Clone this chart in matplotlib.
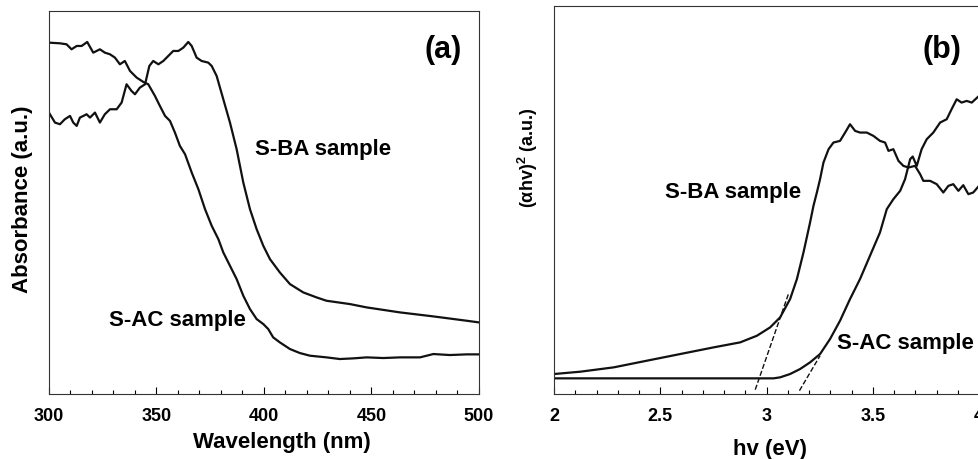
import matplotlib.pyplot as plt
import numpy as np
from matplotlib.ticker import MultipleLocator

plt.rcParams['font.family'] = ['Liberation Sans', 'DejaVu Sans']
plt.rcParams['font.weight'] = 'bold'
plt.rcParams['mathtext.fontset'] = 'custom'
plt.rcParams['mathtext.bf'] = 'Liberation Sans:bold'

# (a) UV-vis absorbance
wl_ba = [300.0, 302.8, 305.1, 307.4, 309.8, 311.3, 312.9, 314.4, 316.0, 317.5, 319.1, 321.4,
         323.7, 326.0, 328.4, 331.5, 333.8, 336.1, 338.4, 340.0, 342.3, 344.7, 346.7, 348.5,
         350.9, 353.2, 355.5, 357.8, 360.2, 362.5, 364.8, 366.4, 368.7, 371.0, 374.1, 375.7,
         378.0, 381.1, 384.2, 387.3, 390.4, 393.5, 396.6, 399.7, 402.8, 407.4, 412.1, 418.3,
         424.5, 429.1, 440.0, 447.8, 463.3, 478.8, 494.3, 500.0]
abs_ba = [.845, .815, .810, .825, .835, .815, .805, .830, .835, .840, .830, .845,
          .815, .840, .855, .855, .875, .930, .910, .900, .920, .930, .985, 1.000,
          .990, 1.000, 1.015, 1.030, 1.030, 1.040, 1.057, 1.045, 1.010, 1.000, .995, .985,
          .955, .885, .815, .735, .635, .555, .495, .445, .405, .365, .330, .305,
          .290, .280, .270, .260, .245, .233, .220, .215]

wl_ac = [300.0, 305.1, 308.2, 310.5, 312.9, 315.2, 317.8, 320.6, 323.7, 326.0, 328.4, 330.7,
         333.0, 335.3, 337.7, 340.8, 343.9, 346.2, 349.3, 351.6, 354.0, 356.3, 358.6, 360.9,
         363.3, 366.4, 369.5, 372.6, 375.7, 378.8, 381.1, 384.2, 387.3, 390.4, 393.5, 396.6,
         399.7, 402.0, 404.3, 407.4, 412.1, 416.7, 421.4, 429.1, 435.3, 441.6, 447.8, 455.5,
         463.3, 472.6, 478.8, 486.5, 494.3, 500.0]
abs_ac = [1.055, 1.053, 1.050, 1.035, 1.045, 1.045, 1.057, 1.025, 1.035, 1.025, 1.020, 1.010,
          .990, 1.000, .970, .950, .937, .930, .895, .865, .835, .820, .785, .745,
          .720, .665, .615, .555, .505, .465, .425, .385, .345, .295, .255, .225,
          .210, .195, .170, .155, .135, .123, .115, .110, .105, .107, .110, .108,
          .110, .110, .120, .117, .119, .119]

# (b) Tauc plot
ev_ba = [2.000, 2.124, 2.281, 2.437, 2.594, 2.751, 2.876, 2.955, 3.017, 3.064, 3.111, 3.143,
         3.174, 3.205, 3.221, 3.237, 3.252, 3.268, 3.292, 3.315, 3.346, 3.370, 3.393, 3.417,
         3.440, 3.472, 3.503, 3.534, 3.558, 3.574, 3.597, 3.621, 3.644, 3.668, 3.699, 3.723,
         3.738, 3.770, 3.801, 3.832, 3.856, 3.879, 3.903, 3.926, 3.950, 3.973, 4.000]
tauc_ba = [.060, .067, .080, .100, .120, .140, .155, .175, .200, .230, .285, .345,
           .425, .515, .565, .605, .645, .695, .735, .755, .760, .785, .810, .790,
           .785, .785, .775, .760, .755, .730, .735, .700, .685, .680, .685, .660,
           .640, .640, .630, .605, .625, .630, .610, .627, .600, .605, .625]

ev_ac = [2.000, 3.033, 3.064, 3.111, 3.158, 3.205, 3.252, 3.299, 3.346, 3.393, 3.440, 3.487,
         3.534, 3.566, 3.597, 3.629, 3.652, 3.676, 3.688, 3.707, 3.730, 3.754, 3.785, 3.817,
         3.848, 3.871, 3.895, 3.918, 3.942, 3.966, 4.000]
tauc_ac = [.047, .047, .050, .060, .075, .095, .120, .165, .220, .285, .345, .415,
           .485, .555, .585, .610, .645, .705, .713, .685, .735, .765, .785, .815,
           .825, .855, .885, .875, .880, .875, .895]

# 切线 (band gap extrapolation)
fit_ba_x = [2.947, 3.103]
fit_ba_y = [0.013, 0.300]
fit_ac_x = [3.155, 3.252]
fit_ac_y = [0.010, 0.115]

fig = plt.figure(figsize=(9.79, 4.6), dpi=100)
ax1 = fig.add_axes([0.050, 0.1413, 0.4392, 0.8326])
ax2 = fig.add_axes([0.5659, 0.1413, 0.4341, 0.8435])

line_kw = dict(color='#111111', linewidth=1.6)

# 左图
ax1.plot(wl_ba, abs_ba, **line_kw)
ax1.plot(wl_ac, abs_ac, **line_kw)
ax1.set_xlim(300, 500)
ax1.set_ylim(0, 1.15)
ax1.xaxis.set_major_locator(MultipleLocator(50))
ax1.xaxis.set_minor_locator(MultipleLocator(10))
ax1.set_xlabel('Wavelength (nm)', fontsize=16, fontweight='bold')
ax1.set_ylabel('Absorbance (a.u.)', fontsize=16, fontweight='bold')
ax1.xaxis.set_label_coords(0.542, -0.097)
ax1.yaxis.set_label_coords(-0.037, 0.51)
ax1.text(483.3, 1.035, '(a)', fontsize=22, fontweight='bold', ha='center', va='center')
ax1.text(427.4, 0.736, 'S-BA sample', fontsize=16, fontweight='bold', ha='center', va='center')
ax1.text(359.8, 0.225, 'S-AC sample', fontsize=16, fontweight='bold', ha='center', va='center')

# 右图
ax2.plot(ev_ba, tauc_ba, **line_kw)
ax2.plot(ev_ac, tauc_ac, **line_kw)
ax2.plot(fit_ba_x, fit_ba_y, color='#111111', linestyle='--', linewidth=1.0)
ax2.plot(fit_ac_x, fit_ac_y, color='#111111', linestyle='--', linewidth=1.0)
ax2.set_xlim(2, 4)
ax2.set_ylim(0, 1.165)
ax2.xaxis.set_minor_locator(MultipleLocator(0.1))
ax2.set_xticks([2, 2.5, 3, 3.5, 4])
ax2.set_xticklabels(['2', '2.5', '3', '3.5', '4'])
ax2.set_xlabel('hv (eV)', fontsize=16, fontweight='bold')
ax2.set_ylabel(r'(αhv)$^{\mathbf{2}}$ (a.u.)', fontsize=13, fontweight='bold')
ax2.xaxis.set_label_coords(0.508, -0.113)
ax2.yaxis.set_label_coords(-0.032, 0.613)
ax2.text(3.826, 1.035, '(b)', fontsize=22, fontweight='bold', ha='center', va='center')
ax2.text(2.842, 0.607, 'S-BA sample', fontsize=16, fontweight='bold', ha='center', va='center')
ax2.text(3.652, 0.156, 'S-AC sample', fontsize=16, fontweight='bold', ha='center', va='center')

for ax in (ax1, ax2):
    ax.set_yticks([])
    ax.tick_params(axis='x', which='major', direction='in', length=5, width=0.8,
                   pad=9, labelsize=13)
    ax.tick_params(axis='x', which='minor', direction='in', length=3, width=0.8)
    for lab in ax.get_xticklabels():
        lab.set_fontweight('bold')
    for sp in ax.spines.values():
        sp.set_linewidth(0.8)
        sp.set_color('#333333')

plt.savefig('out.png', dpi=100)
